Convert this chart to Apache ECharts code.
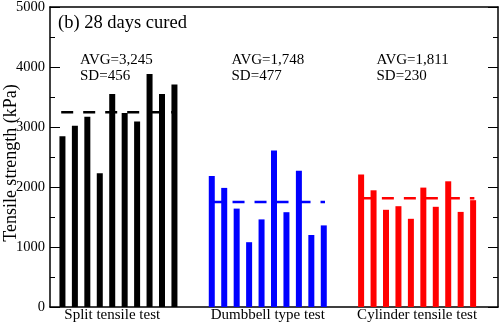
<!DOCTYPE html>
<html>
<head>
<meta charset="utf-8">
<script src="https://cdn.jsdelivr.net/npm/echarts@6/dist/echarts.min.js"></script>
<style>html,body{margin:0;padding:0;background:#fff}#c{width:500px;height:326px}</style>
</head>
<body>
<div id="c"></div>
<script>
var groupNames = ['Split tensile test', 'Dumbbell type test', 'Cylinder tensile test'];
var splitValues = [2845, 3020, 3170, 2230, 3550, 3235, 3090, 3885, 3550, 3710];
var dumbbellValues = [2185, 1985, 1640, 1080, 1460, 2610, 1580, 2270, 1200, 1360];
var cylinderValues = [2210, 1945, 1620, 1680, 1470, 1990, 1670, 2095, 1585, 1780];
var avgValues = [3245, 1748, 1811];
var sdValues = [456, 477, 230];
var yTicks = [0, 1000, 2000, 3000, 4000, 5000];

var groupStarts = [1, 13, 25];
var groupSeries = [splitValues, dumbbellValues, cylinderValues];
var colors = ['#000000', '#0000ff', '#ff0000'];
var FONT = 'Liberation Serif';

function fmt(n){ return n.toLocaleString('en-US'); }

var series = [];
groupSeries.forEach(function(vals, g){
  series.push({
    type: 'bar',
    barWidth: 6,
    barGap: '-100%',
    itemStyle: {color: colors[g]},
    data: vals.map(function(v, i){ return [groupStarts[g] + i, v]; }),
    z: 2
  });
});
avgValues.forEach(function(a, g){
  series.push({
    type: 'line',
    showSymbol: false,
    symbol: 'none',
    lineStyle: {color: colors[g], width: 2.5, type: [12, 10]},
    data: [[groupStarts[g] - 0.1, a], [groupStarts[g] + groupSeries[g].length - 1 + 0.1, a]],
    z: 3,
    silent: true
  });
});

var labelPos = [5, 17.5, 29.5];
var annX = [80, 231.5, 376.5];
var graphics = [{
  type: 'text', x: 58, y: 23.5, style: {text: '(b) 28 days cured', font: '18.5px ' + FONT, fill: '#000', textVerticalAlign: 'middle'}
}, {
  type: 'text', x: 11, y: 163, rotation: Math.PI / 2,
  style: {text: 'Tensile strength (kPa)', font: '18px ' + FONT, fill: '#000', textAlign: 'center', textVerticalAlign: 'middle'}
}];
annX.forEach(function(x, g){
  graphics.push({type: 'text', x: x, y: 60.5, style: {text: 'AVG=' + fmt(avgValues[g]), font: '15px ' + FONT, fill: '#000', textVerticalAlign: 'middle'}});
  graphics.push({type: 'text', x: x, y: 76, style: {text: 'SD=' + fmt(sdValues[g]), font: '15px ' + FONT, fill: '#000', textVerticalAlign: 'middle'}});
});

var chart = echarts.init(document.getElementById('c'), null, {renderer: 'canvas'});
chart.setOption({
  animation: false,
  backgroundColor: '#fff',
  textStyle: {fontFamily: FONT},
  grid: {left: 50, right: 2, top: 7, bottom: 19, containLabel: false, outerBoundsMode: 'none'},
  xAxis: [{
    type: 'value', min: 0, max: 36, position: 'bottom',
    axisLine: {show: true, onZero: false, lineStyle: {color: '#000', width: 1.5}},
    axisTick: {show: false},
    splitLine: {show: false},
    axisLabel: {
      show: true, customValues: labelPos, margin: 1, color: '#000', fontSize: 15, fontFamily: FONT,
      formatter: function(v){ var i = labelPos.indexOf(v); return i >= 0 ? groupNames[i] : ''; }
    }
  }, {
    type: 'value', min: 0, max: 36, position: 'top',
    axisLine: {show: true, onZero: false, lineStyle: {color: '#000', width: 1.5}},
    axisTick: {show: false}, axisLabel: {show: false}, splitLine: {show: false}
  }],
  yAxis: [{
    type: 'value', min: 0, max: 5000, interval: 1000, position: 'left',
    axisLine: {show: true, onZero: false, lineStyle: {color: '#000', width: 1.5}},
    axisTick: {show: true, inside: true, length: 10, lineStyle: {color: '#000'}},
    minorTick: {show: true, splitNumber: 2, length: 5, lineStyle: {color: '#000'}},
    axisLabel: {margin: 5, color: '#000', fontSize: 14.5, fontFamily: FONT, formatter: function(v){ return String(v); }},
    splitLine: {show: false}
  }, {
    type: 'value', min: 0, max: 5000, interval: 1000, position: 'right',
    axisLine: {show: true, onZero: false, lineStyle: {color: '#000', width: 1.5}},
    axisTick: {show: true, inside: true, length: 10, lineStyle: {color: '#000'}},
    minorTick: {show: true, splitNumber: 2, length: 5, lineStyle: {color: '#000'}},
    axisLabel: {show: false},
    splitLine: {show: false}
  }],
  series: series,
  graphic: graphics
});
</script>
</body>
</html>
